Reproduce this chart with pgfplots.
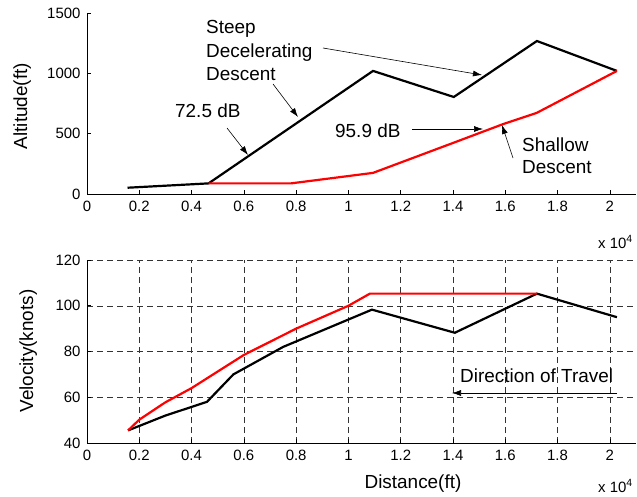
\documentclass[border=0pt]{standalone}
\usepackage{fontspec}
\setmainfont{Liberation Sans}
\usepackage{pgfplots}
\pgfplotsset{compat=1.18}
\usetikzlibrary{arrows.meta}

\pgfplotsset{
  flight/.style={
    scale only axis, width=549bp,
    xmin=0, xmax=2.1,
    axis x line*=bottom, axis y line*=left,
    axis line style={-, line width=0.9bp},
    tick align=inside, major tick length=4bp,
    xtick={0,0.2,0.4,0.6,0.8,1,1.2,1.4,1.6,1.8,2},
    tick style={black, line width=0.6bp},
    /pgf/number format/assume math mode=true,
    /pgf/number format/set thousands separator={},
    tick label style={font=\fontsize{15}{15}\selectfont},
    xticklabel style={yshift=-4bp},
    yticklabel style={xshift=-3bp},
    clip=false,
    anchor=south west,
  },
}
\tikzset{ann/.style={-{Latex[length=9bp,width=6bp]}, line width=0.6bp},
         big/.style={font=\fontsize{19}{19}\selectfont, inner sep=0pt}}

\begin{document}
\begin{tikzpicture}

% altitude profile
\begin{axis}[flight, at={(87bp,-194bp)}, height=181bp,
  ymin=0, ymax=1500, ytick={0,500,1000,1500}]
  \addplot[black, line width=2.2bp] coordinates {
    (0.155,52) (0.465,88) (1.094,1020) (1.403,804) (1.721,1268) (2.027,1020)
  };
  \addplot[red, line width=2.2bp] coordinates {
    (0.465,88) (0.78,88) (1.094,175) (1.40,423) (1.59,578) (1.72,672) (2.027,1020)
  };
\end{axis}

% velocity profile
\begin{axis}[flight, at={(87bp,-443bp)}, height=183bp,
  ymin=40, ymax=120, ytick={40,60,80,100,120},
  grid=major,
  major grid style={black!80, line width=0.5bp, dash pattern=on 6bp off 4bp}]
  \addplot[black, line width=2.2bp] coordinates {
    (0.157,45.5) (0.30,52) (0.459,58) (0.56,70) (0.75,82) (1.09,98.3)
    (1.407,88.2) (1.721,105.3) (2.027,95)
  };
  \addplot[red, line width=2.2bp] coordinates {
    (0.157,45.5) (0.2,50.2) (0.3,57.8) (0.4,64) (0.6,78.5) (0.8,90) (1.0,100)
    (1.082,105.3) (1.721,105.3)
  };
\end{axis}

\begin{scope}[x=1bp, y=-1bp]
  % labels
  \node[big, rotate=90, anchor=base] at (27,106) {Altitude(ft)};
  \node[big, rotate=90, anchor=base] at (33,351) {Velocity(knots)};
  \node[big, anchor=base] at (413,488) {Distance(ft)};
  \node[font=\fontsize{15}{15}\selectfont, inner sep=0pt, anchor=base west] at (598,248) {x 10\textsuperscript{4}};
  \node[font=\fontsize{15}{15}\selectfont, inner sep=0pt, anchor=base west] at (598,492) {x 10\textsuperscript{4}};

  % annotations
  \node[big, anchor=base west] at (206,33) {Steep};
  \node[big, anchor=base west] at (206,57) {Decelerating};
  \node[big, anchor=base west] at (206,80) {Descent};
  \node[big, anchor=base west] at (175,117) {72.5 dB};
  \node[big, anchor=base west] at (335,137) {95.9 dB};
  \node[big, anchor=base west] at (522,151) {Shallow};
  \node[big, anchor=base west] at (522,173) {Descent};
  \node[big, anchor=base west] at (460,382) {Direction of Travel};

  \draw[ann] (273,84) -- (298,117);
  \draw[ann] (323,48) -- (482,75);
  \draw[ann] (227,128) -- (248,155);
  \draw[ann] (412,129) -- (483,129);
  \draw[ann] (513,158) -- (502,125);
  \draw[ann] (617,393) -- (452,393);
\end{scope}

\pgfresetboundingbox
\path[use as bounding box] (0,0) rectangle (637bp,-497bp);
\end{tikzpicture}
\end{document}
